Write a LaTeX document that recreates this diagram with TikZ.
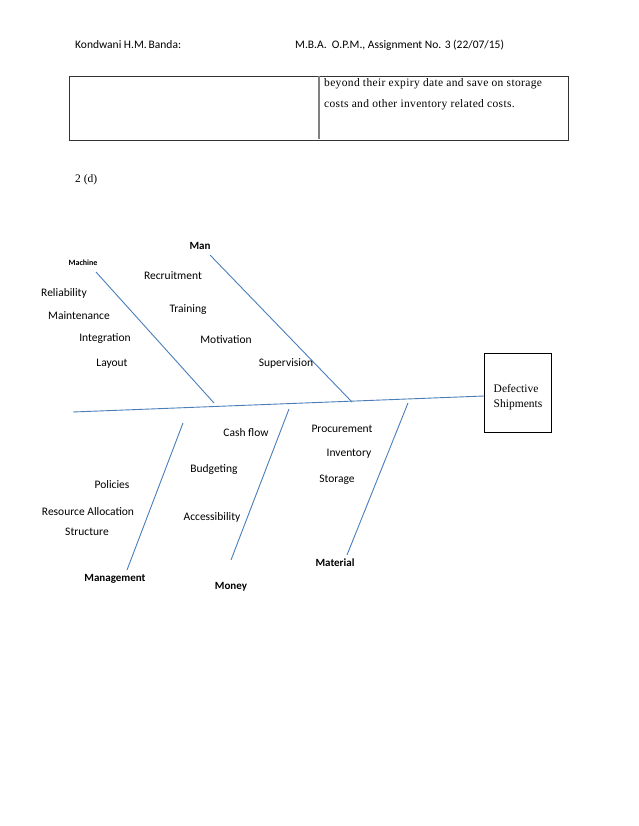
\documentclass[tikz,border=0pt]{standalone}
\usepackage{fontspec}
\setmainfont{Liberation Serif}
\newfontfamily\carlitofont{Carlito}
\newfontfamily\spacedserif[LetterSpace=3]{Liberation Serif}
\definecolor{fishblue}{HTML}{4A7EBB}
\definecolor{framegray}{HTML}{333333}
\begin{document}
\begin{tikzpicture}[x=1pt,y=-1pt,
  lbl/.style={font=\carlitofont\fontsize{11.5}{13}\selectfont, inner sep=0pt, anchor=center},
  cat/.style={font=\carlitofont\bfseries\fontsize{11}{13}\selectfont, inner sep=0pt, anchor=center},
  hdr/.style={font=\carlitofont\fontsize{11.5}{13}\selectfont, inner sep=0pt, anchor=west},
  ser/.style={font=\spacedserif\fontsize{11.5}{14}\selectfont, inner sep=0pt, anchor=west},
  bone/.style={draw=fishblue, line width=0.9pt}]
\useasboundingbox (0,0) rectangle (638,826);
\fill[white] (0,0) rectangle (638,826);
% header
\node[hdr] (h1) at (75,45) {Kondwani H.M.\,Banda:};
\node[hdr] (h2) at (295,45) {M.B.A.\ \ O.P.M., Assignment No. 3 (22/07/15)};
% table
\node[draw=framegray, line width=0.9pt, minimum width=499, minimum height=64, inner sep=0pt] (tab) at (318.5,108) {};
\draw[draw=gray, line width=1.1pt] (319,76.5) coordinate (d1) -- (319,139.5) coordinate (d2);
\node[ser] (t1) at (324,84) {beyond their expiry date and save on storage};
\node[ser] (t2) at (324,105) {costs and other inventory related costs.};
\node[font=\fontsize{11.5}{14}\selectfont, inner sep=0pt, anchor=west] (sec) at (75,180) {2 (d)};
% effect box
\node[draw=black, line width=0.9pt, minimum width=67, minimum height=79, inner sep=0pt] (defect) at (517.5,392.5) {};
\node[font=\fontsize{11.5}{15}\selectfont, align=left, inner sep=0pt] (deftxt) at (518,397.5) {Defective\\Shipments};
% spine
\coordinate (spineL) at (73,412);
\coordinate (spineR) at (484,396);
\draw[bone] (spineL) -- (spineR);
% bones
\coordinate (mach1) at (96,272); \coordinate (mach2) at (214,403);
\coordinate (man1) at (210,255); \coordinate (man2) at (352,402);
\coordinate (mgt1) at (183,423); \coordinate (mgt2) at (127,570);
\coordinate (mon1) at (289,409); \coordinate (mon2) at (231,560);
\coordinate (mat1) at (408,403); \coordinate (mat2) at (347,555);
\draw[bone] (mach1) -- (mach2);
\draw[bone] (man1) -- (man2);
\draw[bone] (mgt1) -- (mgt2);
\draw[bone] (mon1) -- (mon2);
\draw[bone] (mat1) -- (mat2);
% category labels
\node[cat] (man) at (200,246) {Man};
\node[cat, font=\carlitofont\bfseries\fontsize{8}{10}\selectfont] (machine) at (83,263) {Machine};
\node[cat] (management) at (115,579) {Management};
\node[cat] (money) at (231,587) {Money};
\node[cat] (material) at (335,563) {Material};
% causes
\node[lbl] (rec) at (173,276) {Recruitment};
\node[lbl] (train) at (188,310) {Training};
\node[lbl] (motiv) at (226,340) {Motivation};
\node[lbl] (superv) at (286,363) {Supervision};
\node[lbl] (rel) at (64,293) {Reliability};
\node[lbl] (maint) at (79,316) {Maintenance};
\node[lbl] (integ) at (105,339) {Integration};
\node[lbl] (layout) at (112,364) {Layout};
\node[lbl] (cash) at (246,433) {Cash flow};
\node[lbl] (budget) at (214,469) {Budgeting};
\node[lbl] (access) at (212,517) {Accessibility};
\node[lbl] (pol) at (112,485) {Policies};
\node[lbl] (res) at (88,512) {Resource Allocation};
\node[lbl] (struct) at (87,532) {Structure};
\node[lbl] (proc) at (342,429) {Procurement};
\node[lbl] (inv) at (349,454) {Inventory};
\node[lbl] (stor) at (337,480) {Storage};
\end{tikzpicture}
\end{document}
